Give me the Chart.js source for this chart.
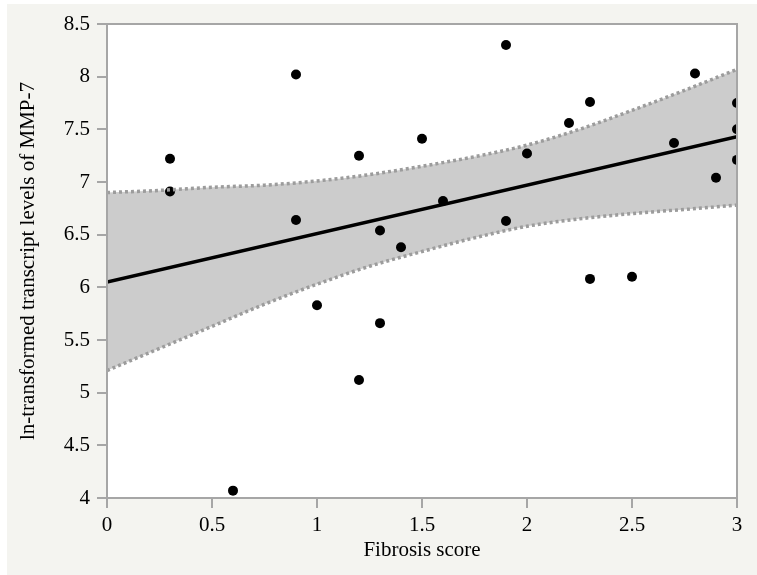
<!DOCTYPE html>
<html>
<head>
<meta charset="utf-8">
<script src="https://cdn.jsdelivr.net/npm/chart.js@4.4.1/dist/chart.umd.min.js"></script>
<style>
  body { margin: 0; background: #ffffff; }
  #wrap { position: absolute; left: 7px; top: 4px; width: 750px; height: 571px; background: #f4f4f0; }
</style>
</head>
<body>
<div id="wrap"><canvas id="chart" width="750" height="571"></canvas></div>
<script>
// observed samples
const fibrosisScore = [0.3, 0.3, 0.6, 0.9, 0.9, 1.0, 1.2, 1.2, 1.3, 1.3, 1.4, 1.5, 1.6,
    1.9, 1.9, 2.0, 2.2, 2.3, 2.3, 2.5, 2.7, 2.8, 2.9, 3.0, 3.0, 3.0];
const mmp7Level = [7.22, 6.91, 4.07, 8.02, 6.64, 5.83, 7.25, 5.12, 6.54, 5.66, 6.38, 7.41, 6.82,
    8.30, 6.63, 7.27, 7.56, 7.76, 6.08, 6.10, 7.37, 8.03, 7.04, 7.75, 7.50, 7.21];

// fitted line
const fitX = [0, 3];
const fitY = [6.05, 7.43];

// confidence band
const bandX = [0, 0.25, 0.5, 0.75, 1.0, 1.25, 1.5, 1.75, 2.0, 2.25, 2.5, 2.75, 3.0];
const bandUpper = [6.90, 6.92, 6.95, 6.97, 7.01, 7.07, 7.15, 7.24, 7.35, 7.50, 7.68, 7.87, 8.07];
const bandLower = [5.21, 5.42, 5.63, 5.84, 6.03, 6.20, 6.34, 6.47, 6.58, 6.65, 6.70, 6.74, 6.78];

// axis ticks
const xTicks = [0, 0.5, 1, 1.5, 2, 2.5, 3];
const yTicks = [4, 4.5, 5, 5.5, 6, 6.5, 7, 7.5, 8, 8.5];

const axisGray = '#a6a6a6';
const dotGray = '#9c9c9c';
const fontFamily = '"Liberation Serif", "Times New Roman", serif';

function toPoints(xs, ys) {
    return xs.map((x, i) => ({ x: x, y: ys[i] }));
}

// white plot area + frame around it
const plotFrame = {
    id: 'plotFrame',
    beforeDraw(chart) {
        const a = chart.chartArea;
        const ctx = chart.ctx;
        ctx.save();
        ctx.fillStyle = '#ffffff';
        ctx.fillRect(a.left, a.top, a.right - a.left, a.bottom - a.top);
        ctx.restore();
    },
    afterDraw(chart) {
        const a = chart.chartArea;
        const ctx = chart.ctx;
        ctx.save();
        ctx.strokeStyle = axisGray;
        ctx.lineWidth = 2;
        ctx.strokeRect(a.left, a.top, a.right - a.left, a.bottom - a.top);
        ctx.restore();
    }
};

// first dataset ends up on top, so band edges go first and points last
new Chart(document.getElementById('chart').getContext('2d'), {
    type: 'scatter',
    data: {
        datasets: [{
            label: 'Upper',
            data: toPoints(bandX, bandUpper),
            showLine: true,
            borderColor: dotGray,
            borderWidth: 3.5,
            borderDash: [3, 3],
            pointRadius: 0,
            cubicInterpolationMode: 'monotone',
            fill: '+1',
            backgroundColor: '#cccccc'
        }, {
            label: 'Lower',
            data: toPoints(bandX, bandLower),
            showLine: true,
            borderColor: dotGray,
            borderWidth: 3.5,
            borderDash: [3, 3],
            pointRadius: 0,
            cubicInterpolationMode: 'monotone',
            fill: false
        }, {
            label: 'Fit',
            data: toPoints(fitX, fitY),
            showLine: true,
            borderColor: '#000000',
            borderWidth: 3.5,
            pointRadius: 0
        }, {
            label: 'MMP-7',
            data: toPoints(fibrosisScore, mmp7Level),
            backgroundColor: '#000000',
            borderWidth: 0,
            pointRadius: 5,
            showLine: false
        }]
    },
    options: {
        responsive: false,
        animation: false,
        layout: { padding: { left: 0, top: 20, right: 20, bottom: 0 } },
        plugins: {
            legend: { display: false },
            tooltip: { enabled: false },
            filler: { drawTime: 'beforeDatasetsDraw' }
        },
        scales: {
            x: {
                type: 'linear',
                min: 0,
                max: 3,
                afterBuildTicks: s => { s.ticks = xTicks.map(v => ({ value: v })); },
                afterFit: s => { s.height = 77; },
                grid: { drawOnChartArea: false, drawTicks: true, tickLength: 10, color: axisGray, lineWidth: 2 },
                border: { color: axisGray, width: 2 },
                ticks: {
                    padding: 5,
                    color: '#000000',
                    font: { family: fontFamily, size: 21 },
                    callback: v => String(v)
                },
                title: {
                    display: true,
                    text: 'Fibrosis score',
                    color: '#000000',
                    font: { family: fontFamily, size: 21 },
                    padding: { top: 0, bottom: 12 }
                }
            },
            y: {
                type: 'linear',
                min: 4,
                max: 8.5,
                afterBuildTicks: s => { s.ticks = yTicks.map(v => ({ value: v })); },
                afterFit: s => { s.width = 100; },
                grid: { drawOnChartArea: false, drawTicks: true, tickLength: 10, color: axisGray, lineWidth: 2 },
                border: { color: axisGray, width: 2 },
                ticks: {
                    padding: 7,
                    color: '#000000',
                    font: { family: fontFamily, size: 21 },
                    callback: v => String(v)
                },
                title: {
                    display: true,
                    text: 'ln-transformed transcript levels of MMP-7',
                    color: '#000000',
                    font: { family: fontFamily, size: 21 },
                    padding: { top: 9, bottom: 0 }
                }
            }
        }
    },
    plugins: [plotFrame]
});
</script>
</body>
</html>
